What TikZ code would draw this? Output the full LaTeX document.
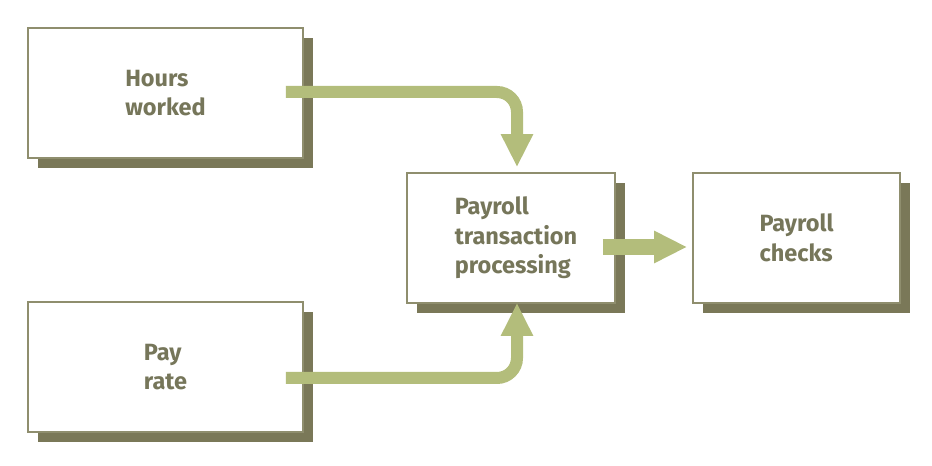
\documentclass[tikz,border=0pt]{standalone}
\usepackage{fontspec}
\setmainfont{Fira Sans}
\usepackage{xcolor}
\usepackage{tikz}
\usetikzlibrary{arrows.meta,shadows}

\definecolor{olivedark}{HTML}{7A7858}
\definecolor{oliveline}{HTML}{8F8E6E}
\definecolor{olivetext}{HTML}{76765A}
\definecolor{flowgreen}{HTML}{B3BD7B}

\begin{document}
\begin{tikzpicture}[x=1pt, y=1pt,
	stepbox/.style={draw=oliveline, line width=1.6pt, fill=white, minimum height=130, inner sep=0,
		drop shadow={shadow xshift=10pt, shadow yshift=-10pt, fill=olivedark, opacity=1}},
	label/.style={font=\bfseries\fontsize{23.5}{29.5}\selectfont, text=olivetext, align=left},
	flow/.style={draw=flowgreen, line width=12pt, rounded corners=20pt,
		-{Triangle[width=30pt, length=33pt]}}
]
\useasboundingbox (0,0) rectangle (932,466);

\node[stepbox, minimum width=275] (hours) at (165.5, 373) {};
\node[stepbox, minimum width=275] (rate) at (165.5, 99) {};
\node[stepbox, minimum width=208] (proc) at (511, 228) {};
\node[stepbox, minimum width=207] (checks) at (796.5, 228) {};

\node[label] at (hours) {Hours\\worked};
\node[label] at (rate) {Pay\\rate};
\node[label] at ([xshift=5pt]proc) {Payroll\\transaction\\processing};
\node[label] at (checks) {Payroll\\checks};

\draw[flow] ([xshift=-18pt, yshift=1pt]hours.east) -| ([xshift=6pt, yshift=5pt]proc.north);
\draw[flow] ([xshift=-18pt, yshift=-11pt]rate.east) -| ([xshift=6pt, yshift=1pt]proc.south);
\draw[flow, line width=16pt] ([xshift=-13pt, yshift=-9pt]proc.east) -- ([xshift=-5pt, yshift=-9pt]checks.west);
\end{tikzpicture}
\end{document}
